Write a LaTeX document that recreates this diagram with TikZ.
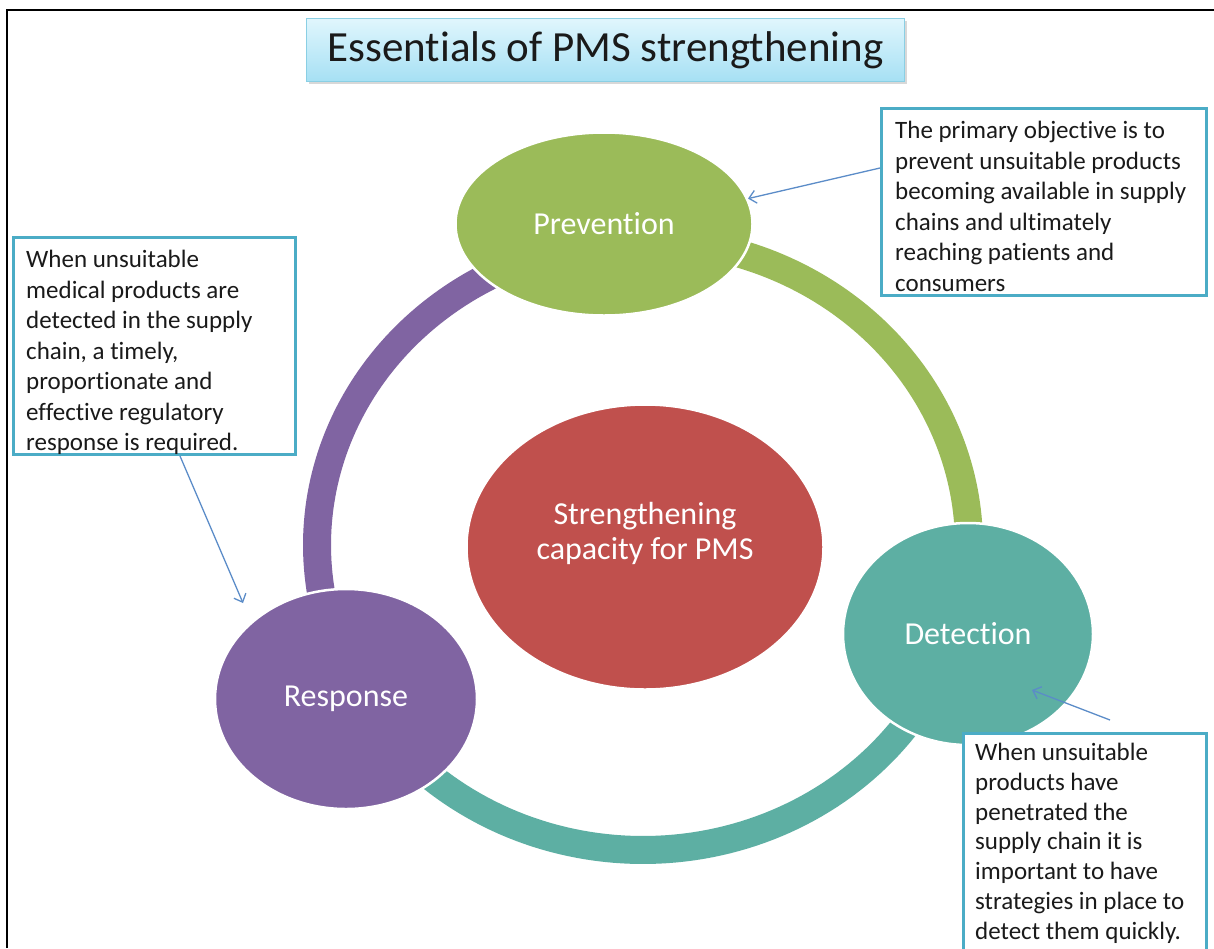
\documentclass[tikz,border=0pt]{standalone}
\usepackage{fontspec}
\setmainfont{Carlito}[Ligatures={NoCommon}]
\usetikzlibrary{shapes.geometric,arrows.meta,shadows}

\definecolor{ringpurple}{HTML}{8064A2}
\definecolor{ringgreen}{HTML}{9BBB59}
\definecolor{ringteal}{HTML}{5DAFA3}
\definecolor{corered}{HTML}{C0504D}
\definecolor{boxedge}{HTML}{4BACC6}
\definecolor{pointerblue}{HTML}{5B8CC8}
\definecolor{titletop}{HTML}{E0F6FD}
\definecolor{titlebot}{HTML}{A6E0F4}
\definecolor{titleedge}{HTML}{8ACFE4}
\definecolor{inktext}{HTML}{1A1A1A}

\begin{document}
\begin{tikzpicture}[x=1pt,y=-1pt,
  ring/.style={line width=28pt},
  phase/.style={ellipse, draw=white, line width=2.5pt, inner sep=0pt},
  phaselabel/.style={text=white, font=\fontsize{32}{35}\selectfont, align=center, inner sep=0pt},
  notebox/.style={rectangle, draw=boxedge, line width=3pt, fill=white, inner sep=0pt},
  notetext/.style={anchor=north west, align=left, inner sep=0pt, text=inktext,
    font=\fontsize{25}{30.5}\selectfont},
  pointer/.style={draw=pointerblue, line width=1.3pt, -{Straight Barb[length=7pt,width=13pt]}},
  titlebox/.style={rectangle, draw=titleedge, line width=1pt, top color=titletop,
    bottom color=titlebot, minimum width=598pt, minimum height=63pt, inner sep=0pt,
    font=\fontsize{43}{50}\selectfont, text=inktext,
    drop shadow={shadow xshift=2pt, shadow yshift=-2pt, opacity=0.3}}
]
\useasboundingbox (0,0) rectangle (1214,948);
\clip (0,0) rectangle (1214,948);
\fill[white] (0,0) rectangle (1214,948);

% page frame (top and left edges)
\draw[line width=2pt] (7,948) -- (7,10) -- (1214,10);

% cycle ring, split into three coloured arcs
\draw[ring, ringpurple] plot[domain=152:263, samples=90] ({643+326*cos(\x)},{545+305*sin(\x)});
\draw[ring, ringgreen]  plot[domain=263:375, samples=90] ({643+326*cos(\x)},{545+305*sin(\x)});
\draw[ring, ringteal]   plot[domain=15:152,  samples=90] ({643+326*cos(\x)},{545+305*sin(\x)});

% title
\node[titlebox] (title) at (605.5,50) {\raisebox{-2pt}{Essentials of PMS strengthening}};

% phases of the cycle
\node[phase, phaselabel, fill=ringgreen, minimum width=297pt, minimum height=183pt] (prev) at (604,224) {Prevention};
\node[phase, phaselabel, fill=ringteal, minimum width=250pt, minimum height=222pt] (det) at (968,634) {Detection};
\node[phase, phaselabel, fill=ringpurple, minimum width=262pt, minimum height=220pt] (resp) at (346,699) {Response};

% centre
\node[phase, fill=corered, minimum width=357pt, minimum height=285pt] (core) at (645,547) {};
\node[phaselabel] (coretext) at (645,533) {Strengthening\\capacity for PMS};

% explanatory notes
\node[notebox, minimum width=325pt, minimum height=187pt] (tbox) at (1044,202) {};
\node[notetext] (ttext) at (895,121) {The primary objective is to\\prevent unsuitable products\\becoming available in supply\\chains and ultimately\\reaching patients and\\consumers};

\node[notebox, minimum width=282pt, minimum height=217pt] (lbox) at (154.5,346) {};
\node[notetext] (ltext) at (26,250) {When unsuitable\\medical products are\\detected in the supply\\chain, a timely,\\proportionate and\\effective regulatory\\response is required.};

\node[notebox, minimum width=243pt, minimum height=230pt] (bbox) at (1085,848.5) {};
\node[notetext, font=\fontsize{25}{29.8}\selectfont] (btext) at (975,743) {When unsuitable\\products have\\penetrated the\\supply chain it is\\important to have\\strategies in place to\\detect them quickly.};

% pointers from the notes
\coordinate (resptip) at (243,603);
\coordinate (dettail) at (1110,720);
\coordinate (dettip) at (1032,690);
\draw[pointer] ([yshift=34pt]tbox.west) -- (prev.10);
\draw[pointer] ([xshift=25.5pt]lbox.south) -- (resptip);
\draw[pointer] (dettail) -- (dettip);
\end{tikzpicture}
\end{document}
